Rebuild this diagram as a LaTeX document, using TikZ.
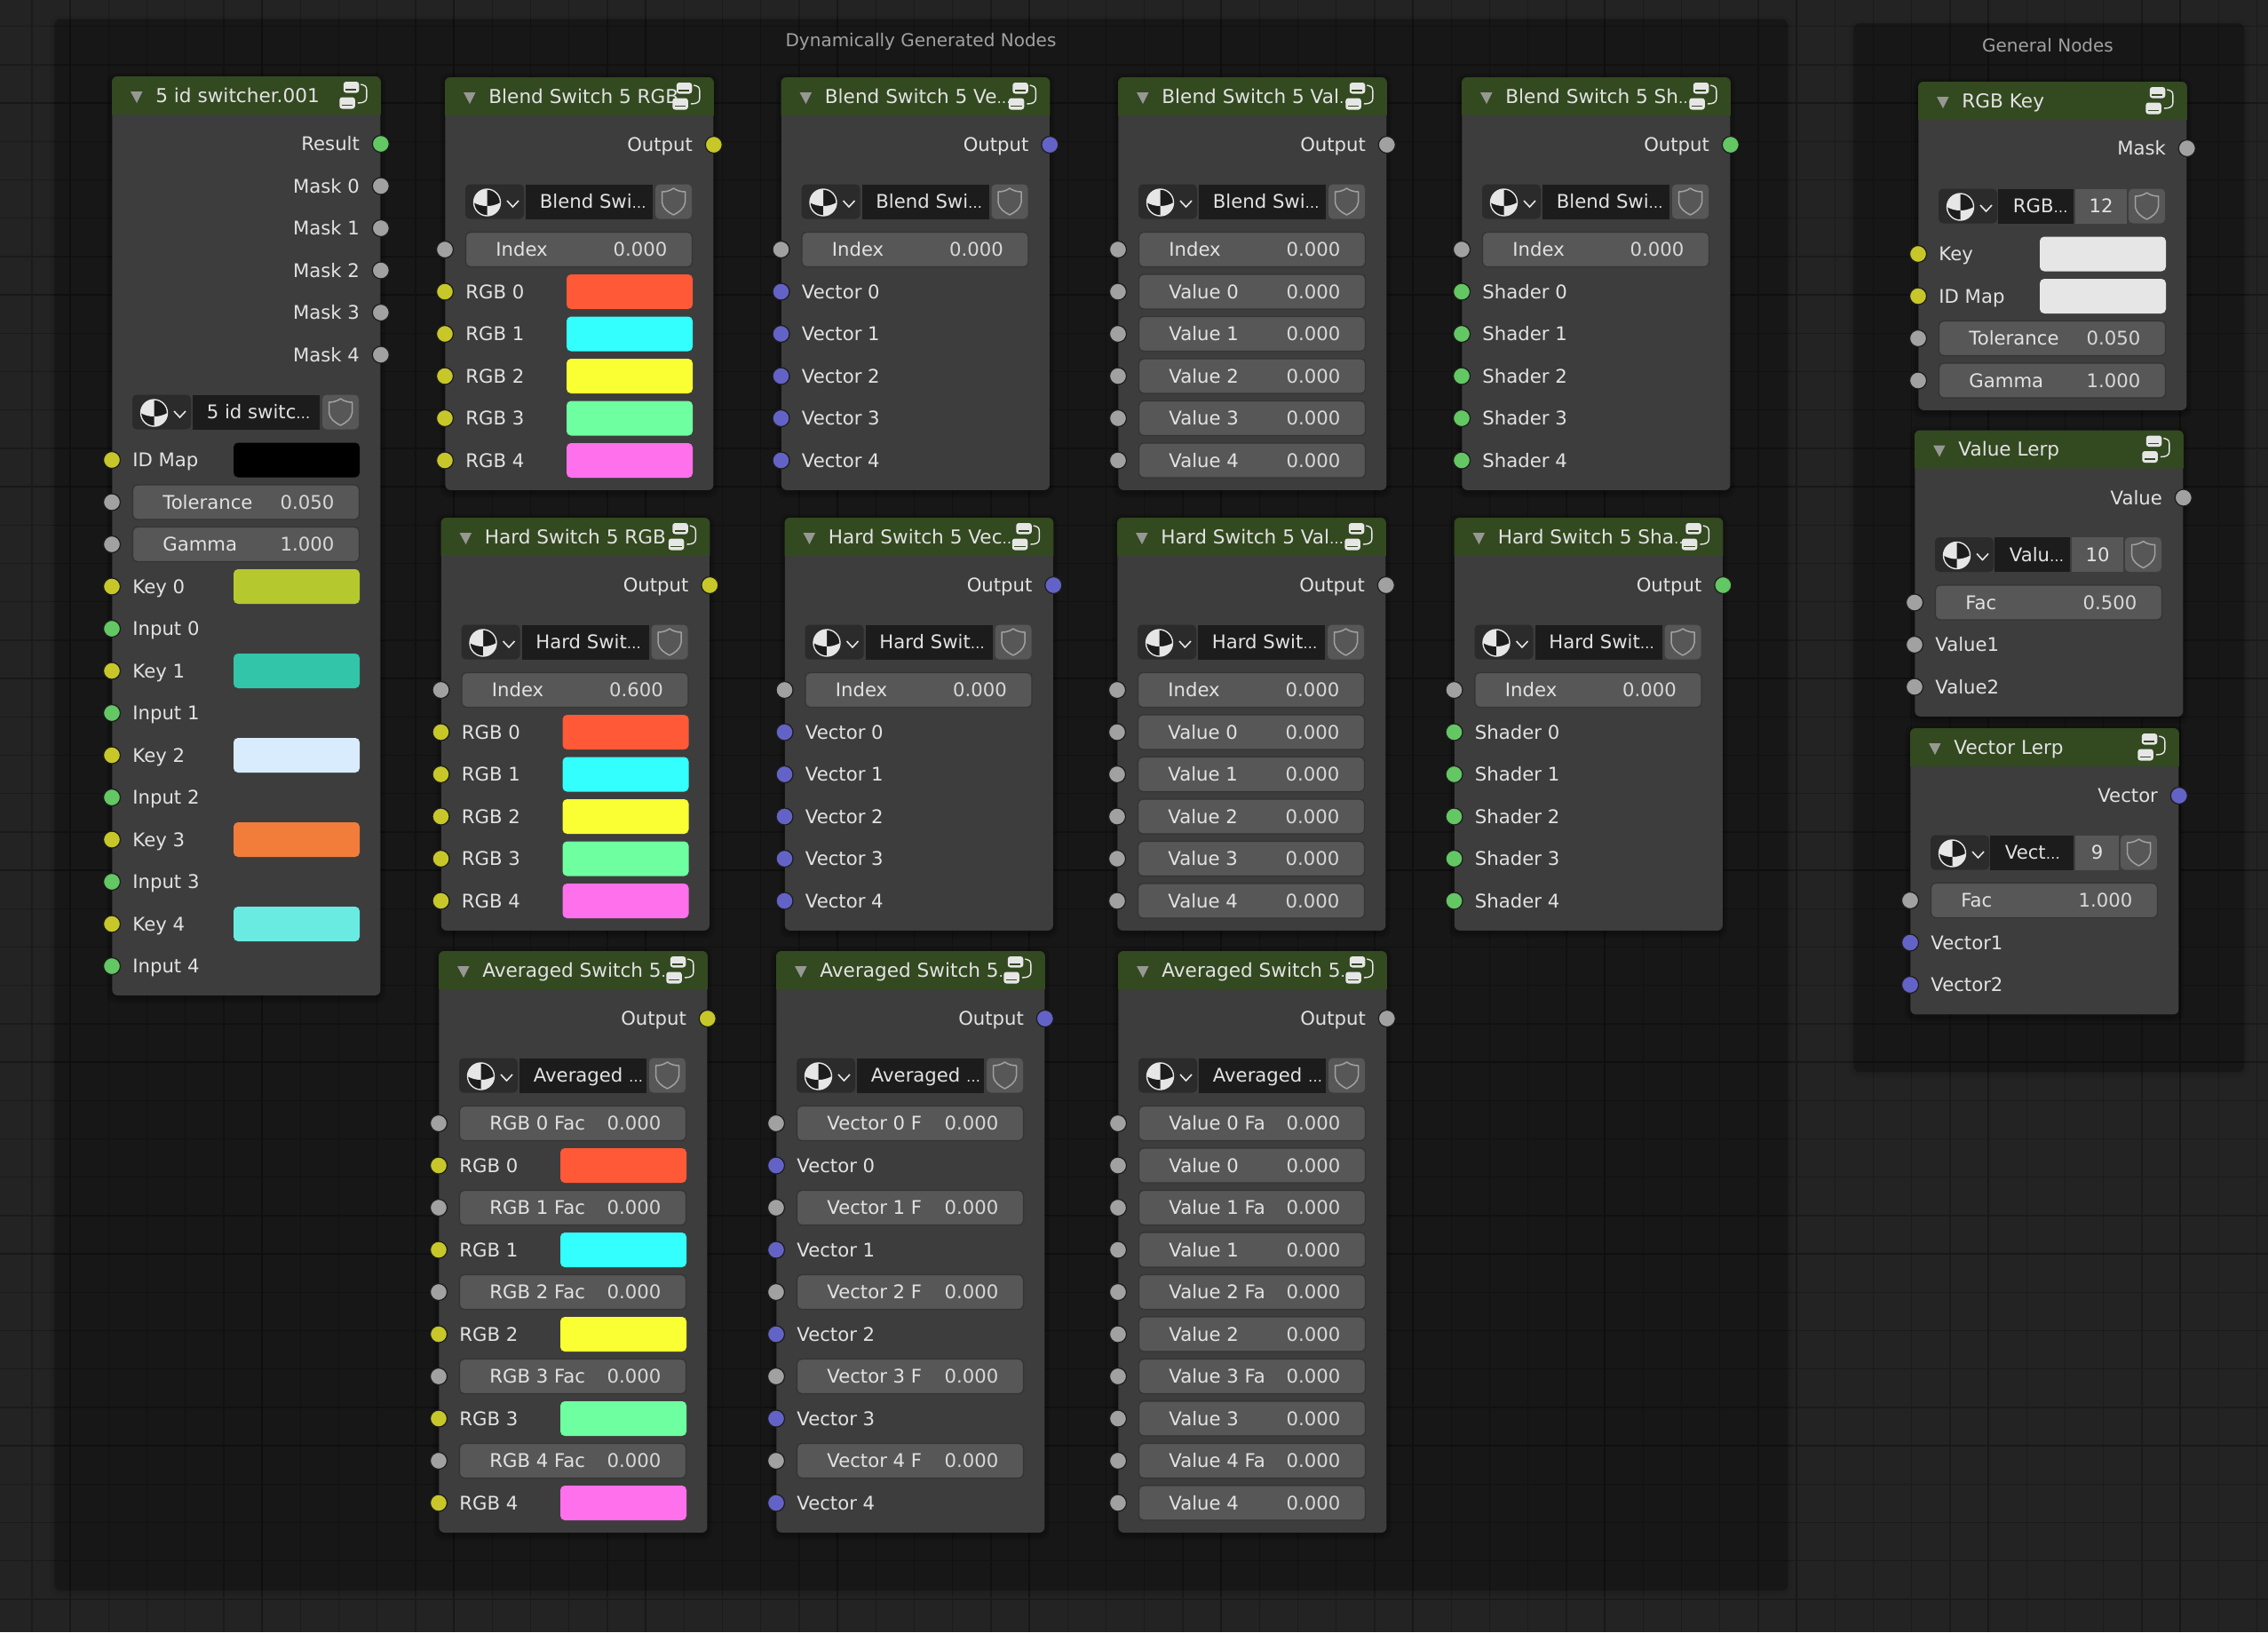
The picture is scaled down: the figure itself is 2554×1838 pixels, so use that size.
\documentclass[tikz,border=0pt]{standalone}
\usepackage{fontspec}
\setmainfont{DejaVu Sans}
\definecolor{canvas}{HTML}{232323}
\definecolor{gridminor}{HTML}{1B1B1B}
\definecolor{gridmajor}{HTML}{181818}
\definecolor{panel}{HTML}{3D3D3D}
\definecolor{headgreen}{HTML}{334920}
\definecolor{fieldgray}{HTML}{575757}
\definecolor{fieldedge}{HTML}{353535}
\definecolor{namedark}{HTML}{1C1C1C}
\definecolor{browsedark}{HTML}{2B2B2B}
\definecolor{labeltext}{HTML}{E2E2E2}
\definecolor{valuetext}{HTML}{D8D8D8}
\definecolor{sockyellow}{HTML}{C7C729}
\definecolor{sockgray}{HTML}{A1A1A1}
\definecolor{sockgreen}{HTML}{63C763}
\definecolor{sockblue}{HTML}{6363C7}
\definecolor{swred}{HTML}{FF5937}
\definecolor{swcyan}{HTML}{33FFFF}
\definecolor{swyellow}{HTML}{FAFF33}
\definecolor{swgreen}{HTML}{6EFFA0}
\definecolor{swpink}{HTML}{FF70EC}
\definecolor{keyolive}{HTML}{B5C92F}
\definecolor{keyteal}{HTML}{32C5A9}
\definecolor{keypale}{HTML}{D8ECFD}
\definecolor{keyorange}{HTML}{F27D3A}
\definecolor{keyaqua}{HTML}{6AEBE2}
\definecolor{keywhite}{HTML}{E6E6E6}
\tikzset{
  minorline/.style={gridminor, line width=0.65pt},
  majorline/.style={gridmajor, line width=1pt},
  softdark/.style={black, opacity=0.09, rounded corners=5pt},
  framesoft/.style={black, opacity=0.05, rounded corners=5pt},
  groupframe/.style={
    rectangle,
    anchor=north west,
    inner sep=0pt,
    fill=black,
    fill opacity=0.24,
    rounded corners=3.5pt,
  },
  frametext/.style={
    text=sockgray,
    inner sep=0pt,
    anchor=base,
    font=\fontsize{10}{12}\selectfont,
  },
  nodebody/.style={
    rectangle,
    anchor=north west,
    inner sep=0pt,
    fill=panel,
    minimum width=151pt,
    rounded corners=3pt,
  },
  rowlabel/.style={
    text=labeltext,
    inner sep=0pt,
    font=\fontsize{10.6}{12}\selectfont,
  },
  titlelabel/.style={rowlabel, font=\fontsize{10.8}{12}\selectfont},
  rowvalue/.style={rowlabel, text=valuetext},
  socket/.style={
    circle,
    inner sep=0pt,
    minimum size=9.5pt,
    draw=namedark,
    line width=0.6pt,
  },
  field/.style={
    rectangle,
    inner sep=0pt,
    minimum height=19.5pt,
    rounded corners=2.5pt,
  },
  valuebox/.style={field, fill=fieldgray, draw=fieldedge, line width=0.7pt, minimum width=127.5pt},
  swatch/.style={field, minimum width=71pt},
  browsebox/.style={field, fill=browsedark, minimum width=33pt},
  namebox/.style={field, fill=namedark, rounded corners=0pt},
  numberbox/.style={field, fill=fieldgray, rounded corners=0pt},
  shieldbox/.style={field, fill=fieldgray, minimum width=20.5pt},
  shieldline/.style={draw=sockgray, line width=0.75pt, line join=round},
  iconpart/.style={fill=keywhite, rounded corners=1.5pt},
}
\def\elli{{\fontsize{8}{12}\selectfont…}}

% body, header bar, collapse arrow, group icon
\newcommand{\blnode}[5]{
  \def\cur{#1}
  \foreach \s in {2,4,6}
    \fill [softdark] (#2-\s,#3-\s+2) rectangle (#2+302+\s,#3+#4+\s+3);
  \node (#1) [nodebody, minimum height=#4*0.5pt] at (#2,#3) {};
  \fill [headgreen] ([shift={(0,43)}]#1.north west) [rounded corners=3pt]
    -- (#1.north west) -- (#1.north east) [sharp corners]
    -- ([shift={(0,43)}]#1.north east) -- cycle;
  \fill [fill=sockgray!90!headgreen] ([shift={(21,17)}]#1.north west)
    -- ([shift={(34.5,17)}]#1.north west) -- ([shift={(28,30)}]#1.north west) -- cycle;
  \node (#1-title) [titlelabel, anchor=base west] at ([shift={(49,29)}]#1.north west) {#5};
  \begin{scope}[shift={(#1.north east)}]
    \fill [iconpart] (-42,6) rectangle (-24.5,18.5);
    \fill [iconpart] (-46.5,23.5) rectangle (-29,36.5);
    \draw [headgreen, line width=0.7pt] (-39.5,15) -- (-27.5,15) (-44,32.5) -- (-31.5,32.5);
    \draw [keywhite, line width=0.7pt] (-22.5,9) .. controls (-18,10) and (-16,11) .. (-16,15) -- (-16,24)
      .. controls (-16,28) and (-19,30) .. (-26,30);
  \end{scope}
}

\newcommand{\outrow}[3]{
  \node (\cur-#1-label) [rowlabel, anchor=base east] at ([shift={(-23.5,#3+7.5)}]\cur.north east) {#1};
  \node (\cur-#1-sock) [socket, fill=#2] at ([shift={(0,#3)}]\cur.north east) {};
}

\newcommand{\sockrow}[3]{
  \node (\cur-#1-sock) [socket, fill=#2] at ([shift={(0,#3)}]\cur.north west) {};
  \node (\cur-#1-label) [rowlabel, anchor=base west] at ([shift={(23,#3+7.5)}]\cur.north west) {#1};
}

\newcommand{\colrow}[4]{
  \sockrow{#1}{#3}{#4}
  \node (\cur-#1-swatch) [swatch, fill=#2] at ([shift={(208,#4)}]\cur.north west) {};
}

\newcommand{\valrow}[3]{
  \node (\cur-#1-sock) [socket, fill=sockgray] at ([shift={(0,#3)}]\cur.north west) {};
  \node (\cur-#1-box) [valuebox] at ([shift={(151,#3)}]\cur.north west) {};
  \node (\cur-#1-label) [rowlabel, anchor=base west] at ([shift={(57,#3+7.5)}]\cur.north west) {#1};
  \node (\cur-#1-value) [rowvalue, anchor=base east] at ([shift={(-52,#3+7.5)}]\cur.north east) {#2};
}

% datablock selector without the name field
\newcommand{\tmplbase}[1]{
  \node (\cur-browse) [browsebox] at ([shift={(56,#1)}]\cur.north west) {};
  \coordinate (\cur-ball) at ([shift={(47.5,#1+1)}]\cur.north west);
  \begin{scope}[shift={(\cur-ball)}]
    \fill [namedark] (0,0) circle (7.5pt);
    \fill [keywhite] (0,-15) arc [start angle=90, end angle=180, radius=7.5pt]
      .. controls (-10,3) and (-5,4) .. (0,4) -- cycle;
    \fill [keywhite] (0,4) .. controls (5,4) and (10,3) .. (15,0)
      arc [start angle=0, end angle=-90, radius=7.5pt] -- cycle;
    \draw [keywhite, line width=0.7pt] (0,0) circle (7.5pt);
  \end{scope}
  \draw [keywhite, line width=0.8pt] ([shift={(70,#1-1)}]\cur.north west)
    -- ([shift={(76.5,#1+6)}]\cur.north west) -- ([shift={(83,#1-1)}]\cur.north west);
  \node (\cur-shield) [shieldbox] at ([shift={(257.5,#1)}]\cur.north west) {};
  \begin{scope}[shift={(\cur-shield)}]
    \draw [shieldline] (0,-15) .. controls (4,-12) and (9,-11) .. (13,-11) -- (13,1)
      .. controls (12,8) and (6,12) .. (0,15) .. controls (-6,12) and (-12,8) .. (-13,1)
      -- (-13,-11) .. controls (-9,-11) and (-4,-12) .. cycle;
  \end{scope}
}

\newcommand{\tmplrow}[2]{
  \tmplbase{#2}
  \node (\cur-name) [namebox, minimum width=71.5pt] at ([shift={(162.5,#2)}]\cur.north west) {};
  \node (\cur-name-text) [rowlabel, anchor=base west] at ([shift={(106.5,#2+7.5)}]\cur.north west) {#1};
}

% #4 is the left edge of the number field
\newcommand{\tmplnum}[4]{
  \tmplbase{#3}
  \pgfmathsetmacro{\namew}{(#4-92)*0.5}
  \pgfmathsetmacro{\namex}{(#4+88)*0.5}
  \pgfmathsetmacro{\numw}{(235-#4)*0.5}
  \pgfmathsetmacro{\numx}{(235+#4)*0.5}
  \node (\cur-name) [namebox, minimum width=\namew pt] at ([shift={(\namex,#3)}]\cur.north west) {};
  \node (\cur-name-text) [rowlabel, anchor=base west] at ([shift={(106.5,#3+7.5)}]\cur.north west) {#1};
  \node (\cur-number) [numberbox, minimum width=\numw pt] at ([shift={(\numx,#3)}]\cur.north west) {};
  \node (\cur-number-text) [rowlabel, anchor=base] at ([shift={(\numx,#3+7.5)}]\cur.north west) {#2};
}

\newcommand{\switchhead}[7]{
  \blnode{#1}{#2}{#3}{464.5}{#4}
  \outrow{Output}{#5}{76}
  \tmplrow{#6}{140}
  \valrow{Index}{#7}{194}
}

\newcommand{\avghead}[6]{
  \blnode{#1}{#2}{#3}{654.5}{#4}
  \outrow{Output}{#5}{76}
  \tmplrow{#6}{140}
}

\def\rgbrows{
  \foreach \i/\c in {0/swred,1/swcyan,2/swyellow,3/swgreen,4/swpink} {
    \pgfmathsetmacro{\ry}{241.5+47.5*\i}
    \colrow{RGB \i}{\c}{sockyellow}{\ry}
  }
}
\def\vecrows{
  \foreach \i in {0,...,4} {
    \pgfmathsetmacro{\ry}{241.5+47.5*\i}
    \sockrow{Vector \i}{sockblue}{\ry}
  }
}
\def\numrows{
  \foreach \i in {0,...,4} {
    \pgfmathsetmacro{\ry}{241.5+47.5*\i}
    \valrow{Value \i}{0.000}{\ry}
  }
}
\def\shaderrows{
  \foreach \i in {0,...,4} {
    \pgfmathsetmacro{\ry}{241.5+47.5*\i}
    \sockrow{Shader \i}{sockgreen}{\ry}
  }
}

\begin{document}
\begin{tikzpicture}[x=0.5pt,y=-0.5pt]
  \useasboundingbox [fill=canvas] (0,0) rectangle (2554,1838);

  % grid
  \foreach \k in {0,...,58}
    \draw [minorline] (35.9+43.2*\k,0) -- (35.9+43.2*\k,1838);
  \foreach \k in {0,...,41}
    \draw [minorline] (0,29.7+43.2*\k) -- (2554,29.7+43.2*\k);
  \foreach \k in {0,...,11}
    \draw [majorline] (78.7+216*\k,0) -- (78.7+216*\k,1838);
  \foreach \k in {0,...,7}
    \draw [majorline] (0,116.3+216*\k) -- (2554,116.3+216*\k);

  % frames
  \foreach \s in {2,5} {
    \fill [framesoft] (61-\s,21-\s+2) rectangle (2013+\s,1791+\s+2);
    \fill [framesoft] (2087-\s,26-\s+2) rectangle (2527+\s,1207+\s+2);
  }
  \node (dynframe) [groupframe, minimum width=976pt, minimum height=885pt] at (61,21) {};
  \node (genframe) [groupframe, minimum width=220pt, minimum height=590.5pt] at (2087,26) {};
  \node (dynlabel) [frametext] at (1037,52) {Dynamically Generated Nodes};
  \node (genlabel) [frametext] at (2306,58) {General Nodes};

  % id switcher
  \blnode{idswitch}{126}{86}{1034.5}{5 id switcher.001}
  \outrow{Result}{sockgreen}{76}
  \foreach \i in {0,...,4} {
    \pgfmathsetmacro{\ry}{123.5+47.5*\i}
    \outrow{Mask \i}{sockgray}{\ry}
  }
  \tmplrow{5 id switc\elli}{378}
  \colrow{ID Map}{black}{sockyellow}{432}
  \valrow{Tolerance}{0.050}{479.5}
  \valrow{Gamma}{1.000}{527}
  \foreach \i/\c in {0/keyolive,1/keyteal,2/keypale,3/keyorange,4/keyaqua} {
    \pgfmathsetmacro{\ry}{574.5+95*\i}
    \colrow{Key \i}{\c}{sockyellow}{\ry}
    \pgfmathsetmacro{\ry}{622+95*\i}
    \sockrow{Input \i}{sockgreen}{\ry}
  }

  % blend switches
  \switchhead{blendrgb}{501}{87}{Blend Switch 5 RGB}{sockyellow}{Blend Swi\elli}{0.000}
  \rgbrows
  \switchhead{blendvec}{879.5}{87}{Blend Switch 5 Ve\elli}{sockblue}{Blend Swi\elli}{0.000}
  \vecrows
  \switchhead{blendval}{1259}{87}{Blend Switch 5 Val\elli}{sockgray}{Blend Swi\elli}{0.000}
  \numrows
  \switchhead{blendshd}{1646}{87}{Blend Switch 5 Sh\elli}{sockgreen}{Blend Swi\elli}{0.000}
  \shaderrows

  % hard switches
  \switchhead{hardrgb}{496.5}{583}{Hard Switch 5 RGB}{sockyellow}{Hard Swit\elli}{0.600}
  \rgbrows
  \switchhead{hardvec}{883.5}{583}{Hard Switch 5 Vec\elli}{sockblue}{Hard Swit\elli}{0.000}
  \vecrows
  \switchhead{hardval}{1258}{583}{Hard Switch 5 Val\elli}{sockgray}{Hard Swit\elli}{0.000}
  \numrows
  \switchhead{hardshd}{1637.5}{583}{Hard Switch 5 Sha\elli}{sockgreen}{Hard Swit\elli}{0.000}
  \shaderrows

  % averaged switches
  \avghead{avgrgb}{494}{1071}{Averaged Switch 5\elli}{sockyellow}{Averaged \elli}
  \foreach \i/\c in {0/swred,1/swcyan,2/swyellow,3/swgreen,4/swpink} {
    \pgfmathsetmacro{\ry}{194+95*\i}
    \valrow{RGB \i\space Fac}{0.000}{\ry}
    \pgfmathsetmacro{\ry}{241.5+95*\i}
    \colrow{RGB \i}{\c}{sockyellow}{\ry}
  }
  \avghead{avgvec}{874}{1071}{Averaged Switch 5\elli}{sockblue}{Averaged \elli}
  \foreach \i in {0,...,4} {
    \pgfmathsetmacro{\ry}{194+95*\i}
    \valrow{Vector \i\space F}{0.000}{\ry}
    \pgfmathsetmacro{\ry}{241.5+95*\i}
    \sockrow{Vector \i}{sockblue}{\ry}
  }
  \avghead{avgval}{1259}{1071}{Averaged Switch 5\elli}{sockgray}{Averaged \elli}
  \foreach \i in {0,...,4} {
    \pgfmathsetmacro{\ry}{194+95*\i}
    \valrow{Value \i\space Fa}{0.000}{\ry}
    \pgfmathsetmacro{\ry}{241.5+95*\i}
    \valrow{Value \i}{0.000}{\ry}
  }

  % general nodes
  \blnode{rgbkey}{2160}{92}{369.5}{RGB Key}
  \outrow{Mask}{sockgray}{75}
  \tmplnum{RGB\elli}{12}{140}{177}
  \colrow{Key}{keywhite}{sockyellow}{194}
  \colrow{ID Map}{keywhite}{sockyellow}{241.5}
  \valrow{Tolerance}{0.050}{289}
  \valrow{Gamma}{1.000}{336.5}

  \blnode{valuelerp}{2156}{484.5}{322}{Value Lerp}
  \outrow{Value}{sockgray}{76}
  \tmplnum{Valu\elli}{10}{140}{177}
  \valrow{Fac}{0.500}{194}
  \sockrow{Value1}{sockgray}{241.5}
  \sockrow{Value2}{sockgray}{289}

  \blnode{vectorlerp}{2151}{820}{322}{Vector Lerp}
  \outrow{Vector}{sockblue}{76}
  \tmplnum{Vect\elli}{9}{140}{186}
  \valrow{Fac}{1.000}{194}
  \sockrow{Vector1}{sockblue}{241.5}
  \sockrow{Vector2}{sockblue}{289}
\end{tikzpicture}
\end{document}
